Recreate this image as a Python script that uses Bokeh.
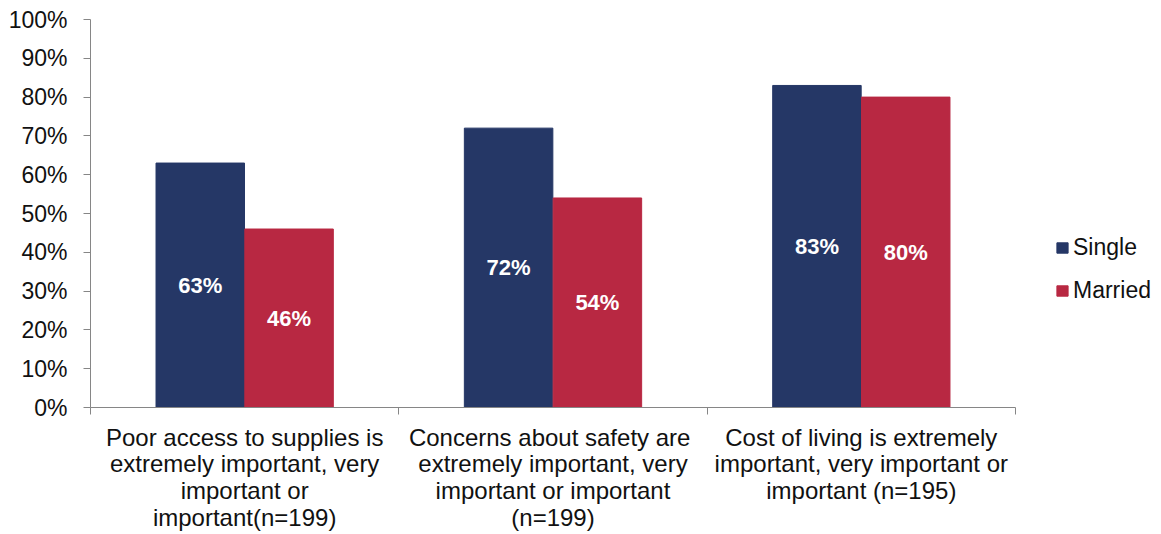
from bokeh.plotting import figure
from bokeh.models import (ColumnDataSource, Range1d, FixedTicker, NumeralTickFormatter,
                          Legend, LegendItem, LinearAxis)
from bokeh.transform import dodge
from bokeh.core.properties import value
from bokeh.embed import file_html
from bokeh.resources import INLINE

categories = [
    "Poor access to supplies is\nextremely important, very\nimportant or\nimportant(n=199)",
    "Concerns about safety  are\nextremely important, very\nimportant or important\n(n=199)",
    "Cost of living is extremely\nimportant, very important or\nimportant (n=195)",
]
single = [0.63, 0.72, 0.83]
married = [0.46, 0.54, 0.80]
series_names = ["Single", "Married"]
y_ticks = [0.0, 0.1, 0.2, 0.3, 0.4, 0.5, 0.6, 0.7, 0.8, 0.9, 1.0]

BLUE = "#253766"
RED = "#B82842"
FONT = "Liberation Sans"

n = len(categories)
xs = [i + 0.5 for i in range(n)]
src = ColumnDataSource(dict(
    x=xs,
    single=single,
    married=married,
    single_mid=[v / 2 for v in single],
    married_mid=[v / 2 for v in married],
    single_lbl=[f"{round(v*100)}%" for v in single],
    married_lbl=[f"{round(v*100)}%" for v in married],
))

# frame spans x 90..1161 px; the 3 groups occupy 90..1015 px
x_end = n * (1161 - 90) / (1015 - 90)
p = figure(width=1161, height=534, output_backend="svg", toolbar_location=None,
           x_range=Range1d(0, x_end), y_range=Range1d(0, 1),
           min_border_left=90, min_border_right=0, min_border_top=19, min_border_bottom=127)
p.outline_line_color = None
p.xgrid.visible = False
p.ygrid.visible = False
p.background_fill_color = "white"

off = 0.144
w = 0.287
r1 = p.vbar(x=dodge("x", -off, range=p.x_range), top="single", width=w, source=src,
            fill_color=BLUE, line_color=BLUE)
r2 = p.vbar(x=dodge("x", off, range=p.x_range), top="married", width=w, source=src,
            fill_color=RED, line_color=RED)

for col_x, col_y, col_t in [(-off, "single_mid", "single_lbl"), (off, "married_mid", "married_lbl")]:
    p.text(x=dodge("x", col_x, range=p.x_range), y=col_y, text=col_t, source=src,
           text_color="white", text_font=value(FONT), text_font_style="bold",
           text_font_size="22px", text_align="center", text_baseline="middle")

# axes
ya = p.yaxis[0]
ya.ticker = FixedTicker(ticks=y_ticks)
ya.formatter = NumeralTickFormatter(format="0%")
ya.axis_line_color = "#868686"
ya.major_tick_line_color = "#868686"
ya.major_tick_out = 7
ya.major_tick_in = 0
ya.minor_tick_line_color = None
ya.major_label_text_font = FONT
ya.major_label_text_font_size = "23px"
ya.major_label_text_color = "#111111"
ya.major_label_standoff = 16

xa = p.xaxis[0]
xa.ticker = FixedTicker(ticks=list(range(n + 1)))
xa.bounds = (0, n)
xa.axis_line_color = "#868686"
xa.major_tick_line_color = "#868686"
xa.major_tick_out = 7
xa.major_tick_in = 0
xa.minor_tick_line_color = None
xa.major_label_text_font_size = "0px"
xa.major_label_text_color = None
xa.major_label_standoff = 0

# category labels axis
ca = LinearAxis(ticker=FixedTicker(ticks=xs),
                major_label_overrides={x: c for x, c in zip(xs, categories)},
                axis_line_color=None, major_tick_line_color=None, minor_tick_line_color=None,
                major_tick_out=0, major_tick_in=0, major_label_standoff=9,
                major_label_text_font=FONT, major_label_text_font_size="24px",
                major_label_text_color="#111111", major_label_text_line_height=0.99)
p.add_layout(ca, "below")

legend = Legend(items=[LegendItem(label=series_names[0], renderers=[r1]),
                       LegendItem(label=series_names[1], renderers=[r2])],
                location=(965, 103), orientation="vertical",
                label_text_font=FONT, label_text_font_size="23px", label_text_color="#111111",
                glyph_width=14, glyph_height=13, label_height=20, spacing=16,
                label_standoff=4, padding=0, margin=0,
                border_line_color=None, background_fill_alpha=0)
p.add_layout(legend)

open("out.html", "w").write(file_html(p, INLINE))
